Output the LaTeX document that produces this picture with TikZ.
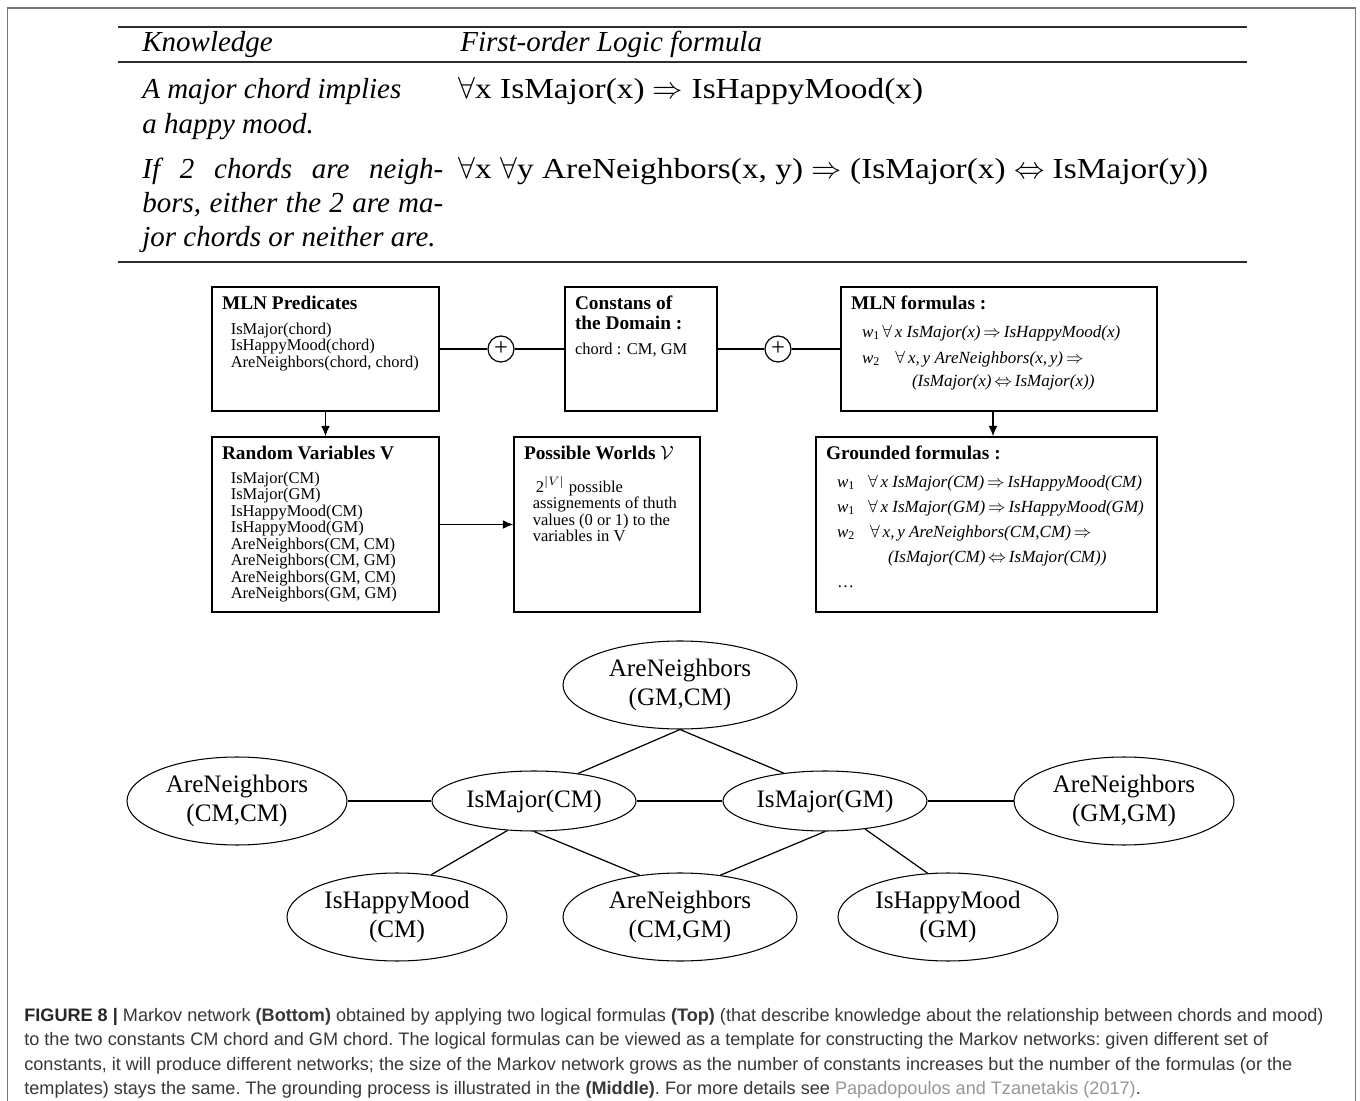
\documentclass[tikz,border=0pt]{standalone}
\usepackage{fontspec}
\setmainfont{Liberation Serif}
\setsansfont{Liberation Sans}
\newfontfamily\formfont[FakeStretch=1.15]{Liberation Serif}
\usepackage{amsmath}
\usetikzlibrary{shapes.geometric, arrows.meta, positioning}

\definecolor{framegray}{RGB}{120,120,120}
\definecolor{rulegray}{RGB}{45,45,45}
\definecolor{captext}{RGB}{55,55,55}
\definecolor{linkgray}{RGB}{150,150,150}

\newcommand{\boxbody}[3]{\parbox[c][\dimexpr#2-10pt\relax][t]{\dimexpr#1-0.4cm\relax}{#3}}
\newcommand{\boxtitle}[1]{{\fontsize{11}{9.4}\selectfont\bfseries #1}}
\newcommand{\fsize}{\fontsize{9.7}{9.4}\selectfont}
\newcommand{\wsub}[1]{\textit{w}\textsubscript{#1}}

\begin{document}
\begin{tikzpicture}[x=0.02cm, y=-0.02cm,
    box/.style={rectangle, draw, line width=0.8pt, inner xsep=0.2cm, inner ysep=5pt, font=\fontsize{9.4}{9.4}\selectfont},
    pluscirc/.style={circle, draw, line width=0.7pt, minimum size=0.52cm, inner sep=0pt, font=\fontsize{14}{14}\selectfont},
    atom/.style={ellipse, draw, line width=0.6pt, align=center, inner sep=0pt, font=\fontsize{14.3}{16}\selectfont},
    atomwide/.style={atom, minimum width=4.4cm, minimum height=1.76cm},
    atomwider/.style={atom, minimum width=4.68cm, minimum height=1.76cm},
    atomnarrow/.style={atom, minimum width=4.08cm, minimum height=1.2cm},
    arrow/.style={-{Latex[length=6pt, width=5pt]}, line width=0.7pt},
    conn/.style={line width=0.7pt},
    tabrule/.style={rulegray, line width=1.2pt},
    knowtext/.style={anchor=base west, inner sep=0pt, font=\fontsize{16.5}{19.4}\selectfont\itshape},
    formtext/.style={anchor=base west, inner sep=0pt, font=\fontsize{16.5}{19.4}\selectfont\formfont}
]
    \useasboundingbox (0,0) rectangle (1360,1101);
    \draw[framegray, line width=1.1pt] (7.5,1101) -- (7.5,8) -- (1355.5,8) -- (1355.5,1101);

    % top table
    \draw[tabrule] (118,27) -- (1247,27);
    \draw[tabrule] (118,62) -- (1247,62);
    \draw[tabrule] (118,262) -- (1247,262);
    \node[knowtext] (khead) at (142,52) {Knowledge};
    \node[knowtext] (fhead) at (460,52) {First-order Logic formula};
    \node[knowtext] (k1a) at (142,99) {A major chord implies};
    \node[knowtext] (k1b) at (142,134) {a happy mood.};
    \node[knowtext] (k2a) at (142,179) {\makebox[6.02cm][s]{If 2 chords are neigh-}};
    \node[knowtext] (k2b) at (142,213) {\makebox[6.02cm][s]{bors, either the 2 are ma-}};
    \node[knowtext] (k2c) at (142,247) {jor chords or neither are.};
    \node[formtext] (f1) at (458,99) {$\forall$x IsMajor(x) $\Rightarrow$ IsHappyMood(x)};
    \node[formtext] (f2) at (458,179) {$\forall$x $\forall$y AreNeighbors(x, y) $\Rightarrow$ (IsMajor(x) $\Leftrightarrow$ IsMajor(y))};

    % grounding boxes
    \node[box] (pred) at (325.5,349) {\boxbody{4.54cm}{2.48cm}{%
        \boxtitle{MLN Predicates}\\[4.8pt]
        \hspace*{5pt}IsMajor(chord)\\
        \hspace*{5pt}IsHappyMood(chord)\\
        \hspace*{5pt}AreNeighbors(chord, chord)}};
    \node[box] (dom) at (641,349) {\boxbody{3.04cm}{2.48cm}{%
        \boxtitle{Constans of\\[2pt]the Domain :}\\[4.8pt]
        chord : CM, GM}};
    \node[box] (mlnf) at (999,349) {\boxbody{6.32cm}{2.48cm}{%
        \boxtitle{MLN formulas :}\\[6.5pt]
        {\fsize\hspace*{6.3pt}\makebox[11.5pt][l]{\wsub{1}}\textit{$\forall$\,x IsMajor(x)$\,\Rightarrow$\,IsHappyMood(x)}}\\[5.4pt]
        {\fsize\hspace*{6.3pt}\makebox[19pt][l]{\wsub{2}}\textit{$\forall$\,x,\,y AreNeighbors(x,\,y)$\,\Rightarrow$}}\\[3.7pt]
        {\fsize\hspace*{34.7pt}\textit{(IsMajor(x)$\,\Leftrightarrow\,$IsMajor(x))}}}};
    \node[pluscirc] (p1) at (501,349) {+};
    \node[pluscirc] (p2) at (778,349) {+};
    \node[box] (rv) at (325.5,524.5) {\boxbody{4.54cm}{3.5cm}{%
        \boxtitle{Random Variables V}\\[4.3pt]
        \hspace*{5pt}IsMajor(CM)\\
        \hspace*{5pt}IsMajor(GM)\\
        \hspace*{5pt}IsHappyMood(CM)\\
        \hspace*{5pt}IsHappyMood(GM)\\
        \hspace*{5pt}AreNeighbors(CM, CM)\\
        \hspace*{5pt}AreNeighbors(CM, GM)\\
        \hspace*{5pt}AreNeighbors(GM, CM)\\
        \hspace*{5pt}AreNeighbors(GM, GM)}};
    \node[box] (pw) at (607,524.5) {\boxbody{3.72cm}{3.5cm}{%
        \boxtitle{Possible Worlds $\mathcal{V}$}\\[9.4pt]
        \hspace*{6.8pt}2$^{|V|}$ possible\\
        \hspace*{5pt}assignements of thuth\\
        \hspace*{5pt}values (0 or 1) to the\\
        \hspace*{5pt}variables in V}};
    \node[box] (gf) at (986.5,524.5) {\boxbody{6.82cm}{3.5cm}{%
        \boxtitle{Grounded formulas :}\\[6.5pt]
        {\fsize\hspace*{6.3pt}\makebox[17.6pt][l]{\wsub{1}}\textit{$\forall$\,x IsMajor(CM)$\,\Rightarrow$\,IsHappyMood(CM)}}\\[4.8pt]
        {\fsize\hspace*{6.3pt}\makebox[17.6pt][l]{\wsub{1}}\textit{$\forall$\,x IsMajor(GM)$\,\Rightarrow$\,IsHappyMood(GM)}}\\[4.8pt]
        {\fsize\hspace*{6.3pt}\makebox[18.8pt][l]{\wsub{2}}\textit{$\forall$\,x,\,y AreNeighbors(CM,CM)$\,\Rightarrow$}}\\[4.8pt]
        {\fsize\hspace*{35.3pt}\textit{(IsMajor(CM)$\,\Leftrightarrow\,$IsMajor(CM))}}\\[4.8pt]
        {\fsize\hspace*{6.3pt}\dots}}};

    \draw[conn] (pred.east) -- (p1);
    \draw[conn] (p1) -- (dom.west);
    \draw[conn] (dom.east) -- (p2);
    \draw[conn] (p2) -- (mlnf.west);
    \draw[arrow] (pred.south) -- (rv.north);
    \draw[arrow] (rv.east) -- (pw.west);
    \draw[arrow] ([xshift=-0.12cm]mlnf.south) -- ([xshift=-0.12cm]mlnf.south |- gf.north);

    % Markov network
    \node[atomwider] (ancg) at (680,685) {AreNeighbors\\(GM,CM)};
    \node[atomwide] (ancc) at (237,801) {AreNeighbors\\(CM,CM)};
    \node[atomnarrow] (imcm) at (534,801) {IsMajor(CM)};
    \node[atomnarrow] (imgm) at (825,801) {IsMajor(GM)};
    \node[atomwide] (angg) at (1124,801) {AreNeighbors\\(GM,GM)};
    \node[atomwide] (ihcm) at (397,917) {IsHappyMood\\(CM)};
    \node[atomwider] (ancm) at (680,917) {AreNeighbors\\(CM,GM)};
    \node[atomwide] (ihgm) at (948,917) {IsHappyMood\\(GM)};

    \draw[conn] (ancg.south) -- (imcm.32.5);
    \draw[conn] (ancg.south) -- (imgm.146);
    \draw[conn] (ancc) -- (imcm);
    \draw[conn] (imcm) -- (imgm);
    \draw[conn] (imgm) -- (angg);
    \draw[conn] (imcm.-132) -- (ihcm.51.5);
    \draw[conn] (imcm.south) -- (ancm.134);
    \draw[conn] (imgm.south) -- (ancm.46);
    \draw[conn] (imgm.-35) -- (ihgm.115);

    % caption
    \node[anchor=north west, inner sep=0pt, align=left, text=captext, font=\sffamily\fontsize{10.3}{13.9}\selectfont\frenchspacing] (caption) at (24,1008) {%
        {\color{black!85}\textbf{FIGURE 8 |}} Markov network \textbf{(Bottom)} obtained by applying two logical formulas \textbf{(Top)} (that describe knowledge about the relationship between chords and mood)\\
        to the two constants CM chord and GM chord. The logical formulas can be viewed as a template for constructing the Markov networks: given different set of\\
        constants, it will produce different networks; the size of the Markov network grows as the number of constants increases but the number of the formulas (or the\\
        templates) stays the same. The grounding process is illustrated in the \textbf{(Middle)}. For more details see {\color{linkgray}Papadopoulos and Tzanetakis (2017)}.};
\end{tikzpicture}
\end{document}
